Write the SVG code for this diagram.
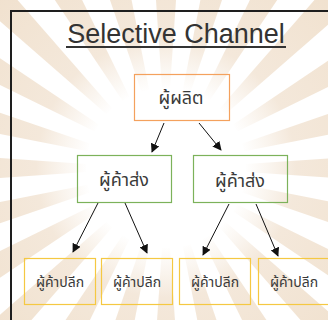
<svg xmlns="http://www.w3.org/2000/svg" width="328" height="320" viewBox="0 0 328 320">
  <defs>
    <radialGradient id="rayFade" gradientUnits="userSpaceOnUse" cx="0" cy="0" r="260">
      <stop offset="0.3" stop-color="#f4e8da" stop-opacity="0"/>
      <stop offset="0.5" stop-color="#f2e4d4" stop-opacity="0.85"/>
      <stop offset="1" stop-color="#f0e0cc" stop-opacity="1"/>
    </radialGradient>
    <polygon id="ray" points="80,-4 270,-17 270,17 80,4" fill="url(#rayFade)"/>
    <marker id="arrow" viewBox="0 0 10 10" refX="9" refY="5" markerWidth="9" markerHeight="9" markerUnits="userSpaceOnUse" orient="auto">
      <path d="M0,0 L10,5 L0,10 Z" fill="#111"/>
    </marker>
    <style>
      .title { font-family: "Liberation Sans", "Open Sans", sans-serif; font-size: 27px; fill: #333; }
      .thai { font-family: "Noto Sans Thai", "Noto Sans", "Liberation Sans", "DejaVu Sans", sans-serif; fill: #3a3a3a; text-anchor: middle; }
      .big { font-size: 18px; }
      .small { font-size: 14px; }
      .box { fill: none; stroke-width: 1.2; }
      .producer { stroke: #f4a15d; }
      .wholesale { stroke: #7cb25a; }
      .retail { stroke: #f5c842; }
      .edge { stroke: #111; stroke-width: 1; fill: none; marker-end: url(#arrow); }
    </style>
  </defs>

  <rect width="328" height="320" fill="#ffffff"/>

  <!-- faint sunburst backdrop -->
  <g id="sunburst" transform="translate(166,168)">
    <use href="#ray" transform="rotate(0)"/>
    <use href="#ray" transform="rotate(15)"/>
    <use href="#ray" transform="rotate(30)"/>
    <use href="#ray" transform="rotate(45)"/>
    <use href="#ray" transform="rotate(60)"/>
    <use href="#ray" transform="rotate(75)"/>
    <use href="#ray" transform="rotate(90)"/>
    <use href="#ray" transform="rotate(105)"/>
    <use href="#ray" transform="rotate(120)"/>
    <use href="#ray" transform="rotate(135)"/>
    <use href="#ray" transform="rotate(150)"/>
    <use href="#ray" transform="rotate(165)"/>
    <use href="#ray" transform="rotate(180)"/>
    <use href="#ray" transform="rotate(195)"/>
    <use href="#ray" transform="rotate(210)"/>
    <use href="#ray" transform="rotate(225)"/>
    <use href="#ray" transform="rotate(240)"/>
    <use href="#ray" transform="rotate(255)"/>
    <use href="#ray" transform="rotate(270)"/>
    <use href="#ray" transform="rotate(285)"/>
    <use href="#ray" transform="rotate(300)"/>
    <use href="#ray" transform="rotate(315)"/>
    <use href="#ray" transform="rotate(330)"/>
    <use href="#ray" transform="rotate(345)"/>
  </g>

  <!-- outer frame -->
  <path d="M11,330 V11 H340" fill="none" stroke="#1e1e1e" stroke-width="2"/>

  <!-- heading -->
  <g id="title">
    <text class="title" x="176" y="43" text-anchor="middle">Selective Channel</text>
    <rect x="66" y="46" width="220" height="2" fill="#333"/>
  </g>

  <!-- connectors -->
  <g id="connectors">
    <line class="edge" x1="164" y1="123" x2="152" y2="152"/>
    <line class="edge" x1="199" y1="123" x2="221" y2="150"/>
    <line class="edge" x1="98" y1="203" x2="73" y2="252"/>
    <line class="edge" x1="125" y1="203" x2="147" y2="253"/>
    <line class="edge" x1="229" y1="204" x2="203" y2="255"/>
    <line class="edge" x1="256" y1="204" x2="278" y2="256"/>
  </g>

  <g id="producer">
    <rect class="box producer" x="134.5" y="74.5" width="95" height="46"/>
    <text class="thai big" x="181" y="104">ผู้ผลิต</text>
  </g>

  <g id="wholesaler-1">
    <rect class="box wholesale" x="77.5" y="155.5" width="94" height="47"/>
    <text class="thai big" x="124" y="186">ผู้ค้าส่ง</text>
  </g>
  <g id="wholesaler-2">
    <rect class="box wholesale" x="193.5" y="155.5" width="94" height="47"/>
    <text class="thai big" x="240" y="187">ผู้ค้าส่ง</text>
  </g>

  <g id="retailer-1">
    <rect class="box retail" x="24.5" y="258.5" width="71" height="46"/>
    <text class="thai small" x="60" y="287">ผู้ค้าปลีก</text>
  </g>
  <g id="retailer-2">
    <rect class="box retail" x="101.5" y="258.5" width="71" height="46"/>
    <text class="thai small" x="137" y="287">ผู้ค้าปลีก</text>
  </g>
  <g id="retailer-3">
    <rect class="box retail" x="179.5" y="258.5" width="71" height="46"/>
    <text class="thai small" x="215" y="287">ผู้ค้าปลีก</text>
  </g>
  <g id="retailer-4">
    <rect class="box retail" x="258.5" y="258.5" width="72" height="46"/>
    <text class="thai small" x="294" y="287">ผู้ค้าปลีก</text>
  </g>
</svg>
